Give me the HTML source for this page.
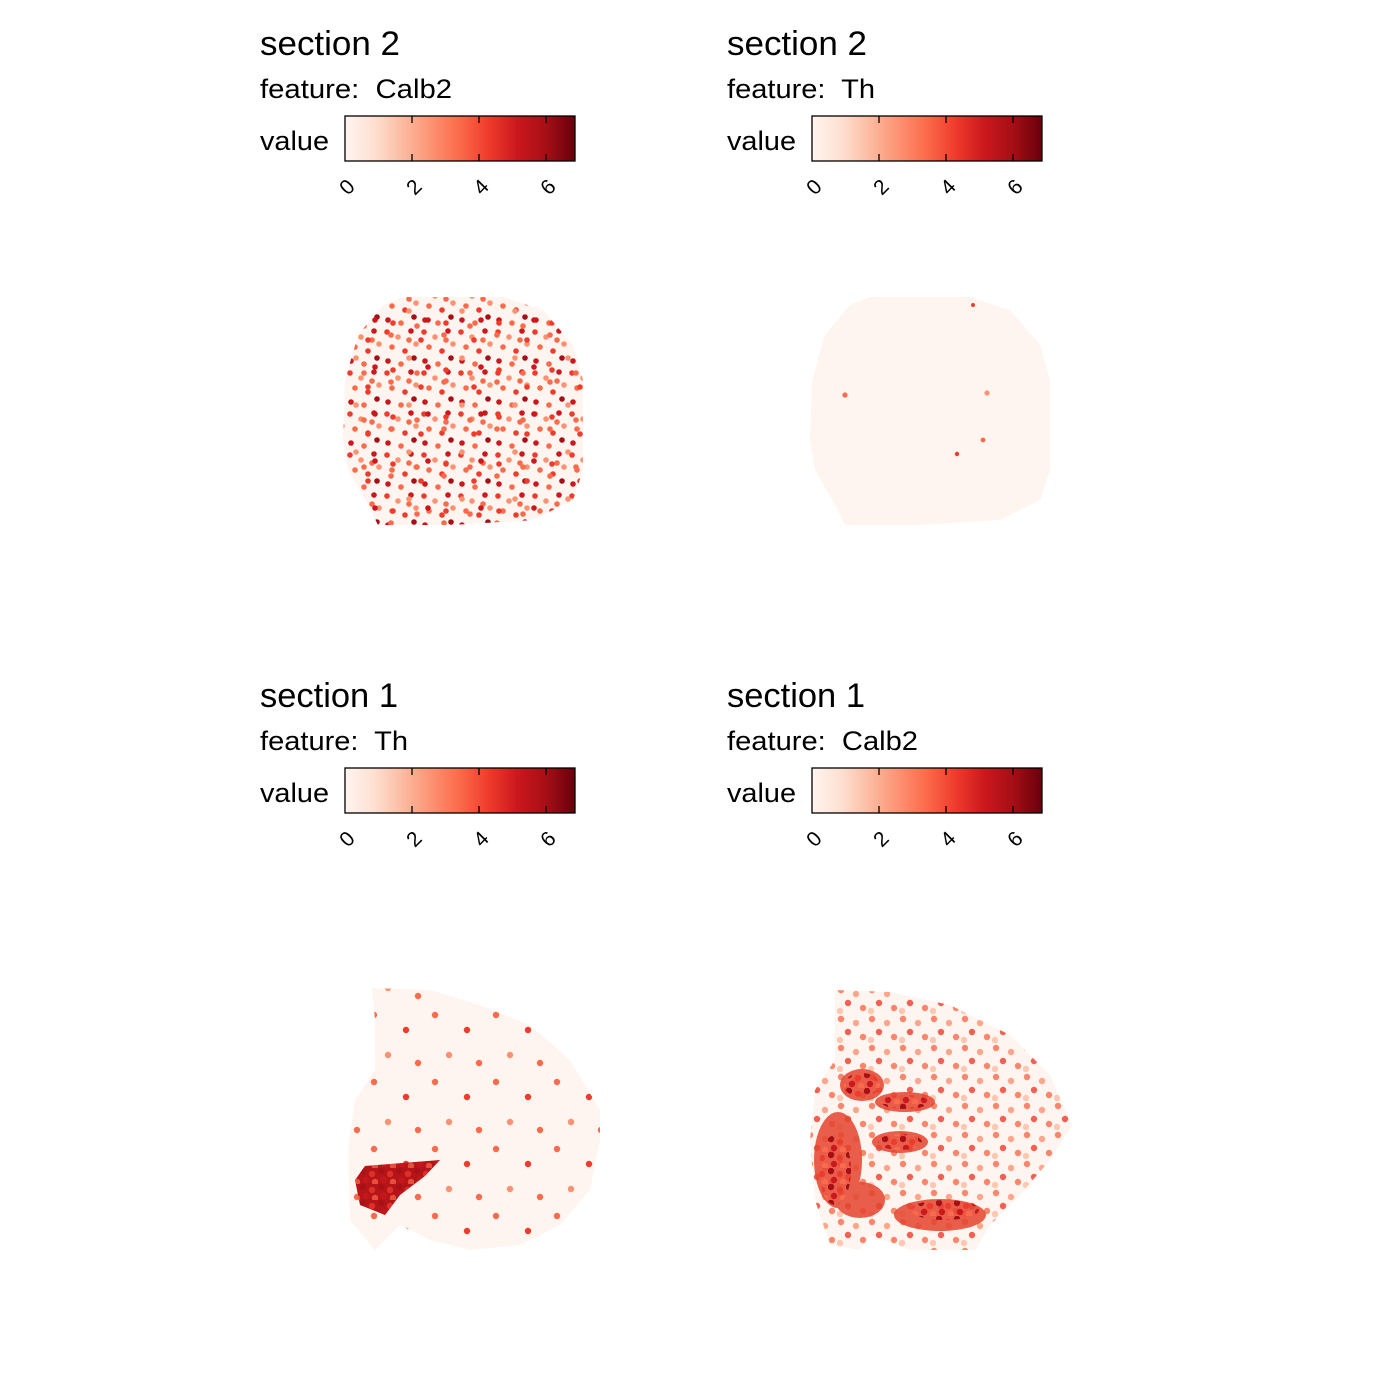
<!DOCTYPE html>
<html><head><meta charset="utf-8"><style>
html,body{margin:0;padding:0;background:#fff}
svg{display:block}
text{font-family:"Liberation Sans",Arial,sans-serif;fill:#000;white-space:pre}
</style></head><body>
<svg width="1400" height="1400" viewBox="0 0 1400 1400" xmlns="http://www.w3.org/2000/svg" xml:space="preserve">
<defs>
<linearGradient id="g" x1="0" x2="1" y1="0" y2="0">
<stop offset="0" stop-color="#fff5f0"/><stop offset="0.125" stop-color="#fee0d2"/><stop offset="0.25" stop-color="#fcbba1"/><stop offset="0.375" stop-color="#fc9272"/><stop offset="0.5" stop-color="#fb6a4a"/><stop offset="0.625" stop-color="#ef3b2c"/><stop offset="0.75" stop-color="#cb181d"/><stop offset="0.875" stop-color="#a50f15"/><stop offset="1" stop-color="#67000d"/>
</linearGradient>
<pattern id="pa" patternUnits="userSpaceOnUse" width="37" height="41">
<circle cx="3" cy="4" r="2.8" fill="#ef3b2c"/><circle cx="14" cy="9" r="2.8" fill="#fc9272"/><circle cx="27" cy="3" r="2.8" fill="#cb181d"/>
<circle cx="8" cy="19" r="2.8" fill="#fb6a4a"/><circle cx="21" cy="23" r="2.8" fill="#ef3b2c"/><circle cx="32" cy="16" r="2.8" fill="#fc9272"/>
<circle cx="4" cy="33" r="2.8" fill="#cb181d"/><circle cx="17" cy="36" r="2.8" fill="#fb6a4a"/><circle cx="30" cy="30" r="2.8" fill="#a50f15"/>
<circle cx="25" cy="12" r="2.8" fill="#fb6a4a"/>
</pattern>
<pattern id="pb" patternUnits="userSpaceOnUse" width="53" height="47">
<circle cx="10" cy="6" r="2.8" fill="#fb6a4a"/><circle cx="40" cy="11" r="2.8" fill="#ef3b2c"/><circle cx="28" cy="29" r="2.8" fill="#fc9272"/>
<circle cx="47" cy="38" r="2.8" fill="#cb181d"/><circle cx="12" cy="41" r="2.8" fill="#ef3b2c"/><circle cx="36" cy="44" r="2.8" fill="#fb6a4a"/>
</pattern>
<pattern id="pc" patternUnits="userSpaceOnUse" width="61" height="67">
<circle cx="8" cy="10" r="3.2" fill="#fb6a4a"/><circle cx="40" cy="25" r="3.2" fill="#ef3b2c"/><circle cx="22" cy="50" r="3.2" fill="#fc9272"/><circle cx="52" cy="58" r="3.2" fill="#fb6a4a"/>
</pattern>
<pattern id="pd" patternUnits="userSpaceOnUse" width="31" height="29">
<circle cx="4" cy="4" r="3.2" fill="#fb6a4a"/><circle cx="19" cy="8" r="3.2" fill="#fc9272"/><circle cx="11" cy="17" r="3.2" fill="#ef3b2c"/><circle cx="26" cy="22" r="3.2" fill="#fb6a4a"/><circle cx="3" cy="25" r="3.2" fill="#fcbba1"/>
</pattern>
<pattern id="pe" patternUnits="userSpaceOnUse" width="18" height="16">
<circle cx="3" cy="3" r="3.2" fill="#a50f15"/><circle cx="12" cy="6" r="3.2" fill="#ef3b2c"/><circle cx="6" cy="12" r="3.2" fill="#cb181d"/><circle cx="15" cy="14" r="3.2" fill="#fb6a4a"/>
</pattern>
<g id="bar">
<rect x="345" y="116" width="230" height="45" fill="url(#g)" stroke="#000" stroke-width="1.3"/>
<path d="M412 116v7M412 154v7M479 116v7M479 154v7M546 116v7M546 154v7" stroke="#000" stroke-width="1.3"/>
<text font-size="21" text-anchor="middle" transform="translate(352,192) rotate(-45)">0</text>
<text font-size="21" text-anchor="middle" transform="translate(419,192) rotate(-45)">2</text>
<text font-size="21" text-anchor="middle" transform="translate(486,192) rotate(-45)">4</text>
<text font-size="21" text-anchor="middle" transform="translate(553,192) rotate(-45)">6</text>
<text x="260" y="150" font-size="27" textLength="69" lengthAdjust="spacingAndGlyphs">value</text>
</g>
</defs>

<text x="260" y="55" font-size="34" textLength="140" lengthAdjust="spacingAndGlyphs">section 2</text>
<text x="260" y="98" font-size="27" textLength="192" lengthAdjust="spacingAndGlyphs">feature:  Calb2</text>
<use href="#bar"/>
<text x="727" y="55" font-size="34" textLength="140" lengthAdjust="spacingAndGlyphs">section 2</text>
<text x="727" y="98" font-size="27" textLength="148" lengthAdjust="spacingAndGlyphs">feature:  Th</text>
<use href="#bar" transform="translate(467,0)"/>
<text x="260" y="707" font-size="34" textLength="138" lengthAdjust="spacingAndGlyphs">section 1</text>
<text x="260" y="750" font-size="27" textLength="148" lengthAdjust="spacingAndGlyphs">feature:  Th</text>
<use href="#bar" transform="translate(0,652)"/>
<text x="727" y="707" font-size="34" textLength="138" lengthAdjust="spacingAndGlyphs">section 1</text>
<text x="727" y="750" font-size="27" textLength="191" lengthAdjust="spacingAndGlyphs">feature:  Calb2</text>
<use href="#bar" transform="translate(467,652)"/>

<!-- top-left tissue -->
<g transform="translate(-467,0)">
<polygon points="870,297 970,297 1010,310 1040,345 1050,380 1050,470 1040,500 1000,520 920,525 845,525 835,505 815,470 810,440 812,380 825,335 850,305" fill="#fff5f0"/>
<polygon points="870,297 970,297 1010,310 1040,345 1050,380 1050,470 1040,500 1000,520 920,525 845,525 835,505 815,470 810,440 812,380 825,335 850,305" fill="url(#pa)"/>
<polygon points="870,297 970,297 1010,310 1040,345 1050,380 1050,470 1040,500 1000,520 920,525 845,525 835,505 815,470 810,440 812,380 825,335 850,305" fill="url(#pb)"/>
</g>

<!-- top-right tissue -->
<polygon points="870,297 970,297 1010,310 1040,345 1050,380 1050,470 1040,500 1000,520 920,525 845,525 835,505 815,470 810,440 812,380 825,335 850,305" fill="#fff5f0"/>
<circle cx="845" cy="395" r="2.6" fill="#fb6a4a"/><circle cx="987" cy="393" r="2.6" fill="#fc9272"/><circle cx="983" cy="440" r="2.4" fill="#fb6a4a"/><circle cx="957" cy="454" r="2.2" fill="#ef3b2c"/><circle cx="973" cy="305" r="2" fill="#ef3b2c"/>

<!-- bottom-left tissue -->
<polygon points="372,988 430,990 480,1005 530,1025 570,1060 600,1110 600,1140 590,1190 560,1225 520,1245 470,1250 430,1240 400,1225 375,1250 350,1220 348,1150 355,1100 375,1070 375,1020" fill="#fff5f0"/>
<polygon points="372,988 430,990 480,1005 530,1025 570,1060 600,1110 600,1140 590,1190 560,1225 520,1245 470,1250 430,1240 400,1225 375,1250 350,1220 348,1150 355,1100 375,1070 375,1020" fill="url(#pc)"/>
<polygon points="355,1180 365,1166 440,1160 425,1176 400,1195 385,1215 360,1205" fill="#b51519"/>
<polygon points="355,1180 365,1166 440,1160 425,1176 400,1195 385,1215 360,1205" fill="url(#pe)" opacity="0.7"/>

<!-- bottom-right tissue -->
<polygon points="835,990 890,992 950,1005 1010,1035 1050,1075 1072,1125 1050,1160 1020,1195 990,1225 975,1250 910,1250 870,1235 860,1250 830,1245 815,1200 810,1140 815,1090 835,1060 835,1010" fill="#fff5f0"/>
<polygon points="835,990 890,992 950,1005 1010,1035 1050,1075 1072,1125 1050,1160 1020,1195 990,1225 975,1250 910,1250 870,1235 860,1250 830,1245 815,1200 810,1140 815,1090 835,1060 835,1010" fill="url(#pd)" opacity="0.8"/>
<g fill="#e4442f" opacity="0.85">
<ellipse cx="838" cy="1160" rx="24" ry="48"/>
<ellipse cx="862" cy="1085" rx="22" ry="16"/>
<ellipse cx="905" cy="1102" rx="30" ry="10"/>
<ellipse cx="900" cy="1142" rx="28" ry="11"/>
<ellipse cx="940" cy="1215" rx="46" ry="16"/>
<ellipse cx="860" cy="1200" rx="25" ry="18"/>
</g>
<g fill="url(#pe)">
<ellipse cx="862" cy="1085" rx="18" ry="12"/>
<ellipse cx="905" cy="1102" rx="24" ry="7"/>
<ellipse cx="900" cy="1142" rx="22" ry="8"/>
<ellipse cx="945" cy="1210" rx="34" ry="10"/>
<ellipse cx="835" cy="1170" rx="16" ry="35"/>
</g>
</svg>
</body></html>
